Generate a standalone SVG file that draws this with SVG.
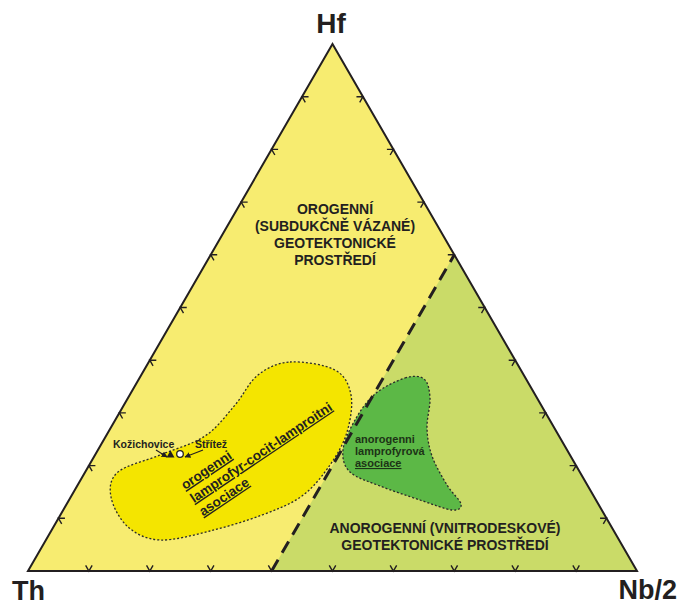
<svg xmlns="http://www.w3.org/2000/svg" xmlns:xlink="http://www.w3.org/1999/xlink" width="679" height="605" viewBox="0 0 679 605">
<style>
.lbl{font-family:"Liberation Sans",Arial,sans-serif;font-weight:bold;fill:#231f20}
.tick{fill:none;stroke:#231f20;stroke-width:1.4}
.blob{stroke:#2a2a2a;stroke-width:1.3;stroke-dasharray:2 2}
</style>
<defs>
<path id="tL" d="M6.5 0 L0 0 L3.25 5.6"/>
<path id="tB" d="M-3.25 -5.6 L0 0 L3.25 -5.6"/>
<path id="tR" d="M-6.5 0 L0 0 L-3.25 5.6"/>
<marker id="ah" viewBox="0 0 10 10" refX="9" refY="5" markerWidth="5" markerHeight="5" orient="auto"><path d="M0 0 L10 5 L0 10 z" fill="#231f20"/></marker>
</defs>
<rect width="679" height="605" fill="#ffffff"/>
<g id="fields">
<polygon points="28,571 637,571 332.5,44" fill="#f7ec70"/>
<polygon points="271.6,571 637,571 454.3,254.8" fill="#cadb68"/>
</g>
<g id="orogenic-field">
<path class="blob" fill="#f4e500" d="M290 362 C302.8 361.2 324.8 364.5 335 370 C345.2 375.5 349 384.7 351 395 C353 405.3 350.5 420.3 347 432 C343.5 443.7 337.5 454.3 330 465 C322.5 475.7 313.3 487.7 302 496 C290.7 504.3 277.3 509.2 262 515 C246.7 520.8 227 526.8 210 531 C193 535.2 173.7 540.7 160 540 C146.3 539.3 136.2 534.2 128 527 C119.8 519.8 112.7 506.2 111 497 C109.3 487.8 109.8 479 118 472 C126.2 465 145.5 461 160 455 C174.5 449 192.5 444.3 205 436 C217.5 427.7 226.2 415.2 235 405 C243.8 394.8 248.8 382.2 258 375 C267.2 367.8 277.2 362.8 290 362 Z"/>
<g class="lbl" font-size="13.5" text-decoration="underline" transform="translate(185,490) rotate(-34)">
<text x="0" y="0">orogenni</text>
<text x="0" y="16">lamprofyr-cocit-lamproitni</text>
<text x="0" y="32">asociace</text>
</g>
</g>
<g id="anorogenic-field">
<path class="blob" fill="#5cb846" d="M405 378 C413.2 375.5 419.8 375.7 424 379 C428.2 382.3 429.5 389.8 430 398 C430.5 406.2 426.7 418.3 427 428 C427.3 437.7 428.7 446.5 432 456 C435.3 465.5 442.2 477 447 485 C451.8 493 460.2 499.8 461 504 C461.8 508.2 458.8 510.7 452 510 C445.2 509.3 432 504 420 500 C408 496 391.7 490.7 380 486 C368.3 481.3 356.2 478 350 472 C343.8 466 342.2 458.7 343 450 C343.8 441.3 349.7 429.3 355 420 C360.3 410.7 366.7 401 375 394 C383.3 387 396.8 380.5 405 378 Z"/>
<g class="lbl" font-size="11" style="fill:#1c3316">
<text x="355" y="443">anorogenni</text>
<text x="355" y="455">lamprofyrová</text>
<text x="355" y="467" text-decoration="underline">asociace</text>
</g>
</g>
<g id="connectors">
<line x1="271.6" y1="571" x2="454.3" y2="254.8" stroke="#231f20" stroke-width="3" stroke-dasharray="13 8"/>
<line x1="156" y1="450" x2="167" y2="457" stroke="#231f20" stroke-width="1.2" marker-end="url(#ah)"/>
<line x1="203" y1="450" x2="185" y2="457" stroke="#231f20" stroke-width="1.2" marker-end="url(#ah)"/>
</g>
<g id="frame">
<polygon points="28,571 637,571 332.5,44" fill="none" stroke="#231f20" stroke-width="2" stroke-linejoin="miter"/>
<g class="tick">
<use xlink:href="#tL" x="58.45" y="518.3"/><use xlink:href="#tL" x="88.9" y="465.6"/><use xlink:href="#tL" x="119.35" y="412.9"/><use xlink:href="#tL" x="149.8" y="360.2"/><use xlink:href="#tL" x="180.25" y="307.5"/><use xlink:href="#tL" x="210.7" y="254.8"/><use xlink:href="#tL" x="241.15" y="202.1"/><use xlink:href="#tL" x="271.6" y="149.4"/><use xlink:href="#tL" x="302.05" y="96.7"/>
<use xlink:href="#tB" x="88.9" y="571"/><use xlink:href="#tB" x="149.8" y="571"/><use xlink:href="#tB" x="210.7" y="571"/><use xlink:href="#tB" x="271.6" y="571"/><use xlink:href="#tB" x="332.5" y="571"/><use xlink:href="#tB" x="393.4" y="571"/><use xlink:href="#tB" x="454.3" y="571"/><use xlink:href="#tB" x="515.2" y="571"/><use xlink:href="#tB" x="576.1" y="571"/>
<use xlink:href="#tR" x="606.55" y="518.3"/><use xlink:href="#tR" x="576.1" y="465.6"/><use xlink:href="#tR" x="545.65" y="412.9"/><use xlink:href="#tR" x="515.2" y="360.2"/><use xlink:href="#tR" x="484.75" y="307.5"/><use xlink:href="#tR" x="454.3" y="254.8"/><use xlink:href="#tR" x="423.85" y="202.1"/><use xlink:href="#tR" x="393.4" y="149.4"/><use xlink:href="#tR" x="362.95" y="96.7"/>
</g>
</g>
<g id="samples">
<polygon points="170.5,450.5 174.5,457.5 166.5,457.5" fill="#231f20"/>
<circle cx="180" cy="454" r="3.3" fill="#ffffff" stroke="#231f20" stroke-width="1.3"/>
<text class="lbl" font-size="10.5" x="113" y="448">Kožichovice</text>
<text class="lbl" font-size="10.5" x="195" y="448">Střítež</text>
</g>
<g id="apex-labels" class="lbl">
<text x="331" y="33" font-size="28" text-anchor="middle">Hf</text>
<text x="12" y="600" font-size="27">Th</text>
<text x="677" y="599" font-size="27" text-anchor="end">Nb/2</text>
</g>
<g id="orogenic-label" class="lbl" font-size="14" text-anchor="middle">
<text x="335" y="214">OROGENNÍ</text>
<text x="335" y="231">(SUBDUKČNĚ VÁZANÉ)</text>
<text x="335" y="248">GEOTEKTONICKÉ</text>
<text x="335" y="265">PROSTŘEDÍ</text>
</g>
<g id="anorogenic-label" class="lbl" font-size="14" text-anchor="middle">
<text x="445" y="533">ANOROGENNÍ (VNITRODESKOVÉ)</text>
<text x="445" y="550">GEOTEKTONICKÉ PROSTŘEDÍ</text>
</g>
</svg>
